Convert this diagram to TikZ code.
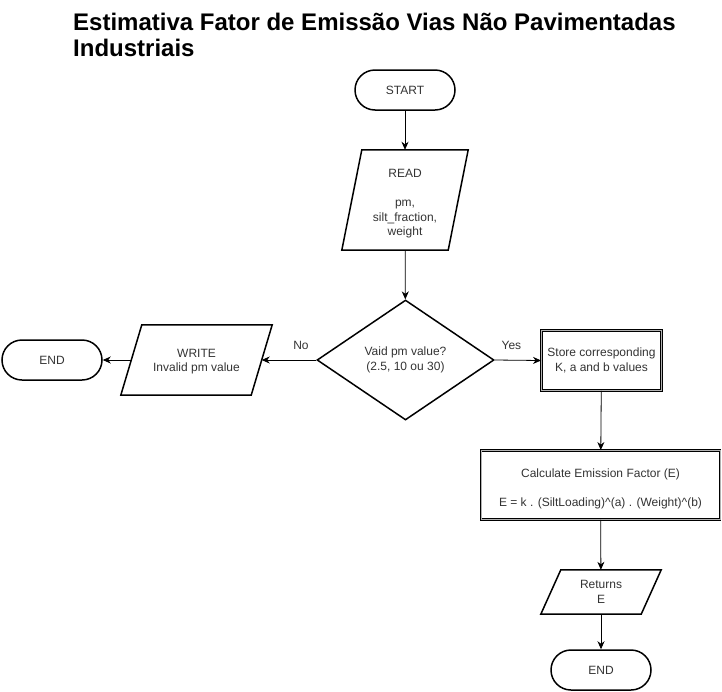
\documentclass[tikz,border=0pt]{standalone}
\usepackage{fontspec}
\setmainfont{Liberation Sans}
\usetikzlibrary{shapes.geometric,arrows.meta,calc}
\definecolor{txt}{HTML}{333333}
\newcommand{\drawpgram}[2]{%
  \draw[line width=1.5pt, line join=miter]
    ($(#1.north west)+(#2,0)$) -- ($(#1.north east)+(#2,0)$) --
    ($(#1.south east)+(-#2,0)$) -- ($(#1.south west)+(-#2,0)$) -- cycle;}
\begin{document}
\begin{tikzpicture}[x=1pt,y=-1pt,
  every node/.style={font=\fontsize{12}{14.5}\selectfont, text=txt, align=center},
  term/.style={draw=black, line width=1.5pt, rounded corners=20pt,
    minimum width=100pt, minimum height=40pt, inner sep=0pt},
  iobox/.style={minimum width=#1, inner sep=0pt},
  proc/.style={draw=black, double=gray!60, double distance=0.8pt, line width=0.9pt,
    inner sep=0pt},
  decision/.style={draw=black, line width=1.5pt, diamond, aspect=1.475,
    minimum width=177pt, minimum height=120pt, inner sep=0pt},
  conn/.style={draw=black, line width=0.8pt, -{Stealth[length=8pt,width=7pt,inset=2.5pt]}},
  lbl/.style={font=\fontsize{12}{14}\selectfont, text=txt}
]
\useasboundingbox (0,0) rectangle (722,691);

% title
\node[anchor=base west, align=left, inner sep=0pt, text=black,
  font=\fontsize{24}{26}\selectfont\bfseries] (title) at (73,56)
  {Estimativa Fator de Emissão Vias Não Pavimentadas\\Industriais};

% nodes
\node[term] (start) at (405,90) {START};
\node[iobox=106pt, minimum height=100pt] (read) at (405,200)
  {\rule{0pt}{16pt}READ\\[14.5pt]pm,\\silt\_fraction,\\weight};
\drawpgram{read}{10}
\node[decision] (dec) at (405.5,360) {Vaid pm value?\\(2.5, 10 ou 30)};
\node[iobox=130pt, minimum height=70pt] (write) at (196.5,360) {\rule{0pt}{11pt}WRITE\\Invalid pm value};
\drawpgram{write}{10.5}
\node[term] (endl) at (52,360) {END};
\node[proc, minimum width=120pt, minimum height=60pt] (store) at (601.5,360.5)
  {Store corresponding\\K, a and b values};
\node[proc, minimum width=239pt, minimum height=69pt] (calc) at (600.5,485)
  {\rule{0pt}{16pt}Calculate Emission Factor (E)\\[14.5pt]E = k . (SiltLoading)\^{}(a) . (Weight)\^{}(b)};
\node[iobox=100pt, minimum height=44pt] (ret) at (601,592) {Returns\\E};
\drawpgram{ret}{10}
\node[term] (endb) at (601,670) {END};

% connectors
\draw[conn] (start) -- (read);
\draw[conn] (read) -- (dec);
\draw[conn] (dec.east) -- node[lbl, pos=0.36, above=7pt] {Yes} (store.west);
\draw[conn] (dec.west) -- node[lbl, pos=0.28, above=7pt] {No} (write.east);
\draw[conn] (write.west) -- (endl.east);
\draw[conn] (store) -- (calc);
\draw[conn] (calc) -- (ret);
\draw[conn] (ret) -- (endb);
\end{tikzpicture}
\end{document}
